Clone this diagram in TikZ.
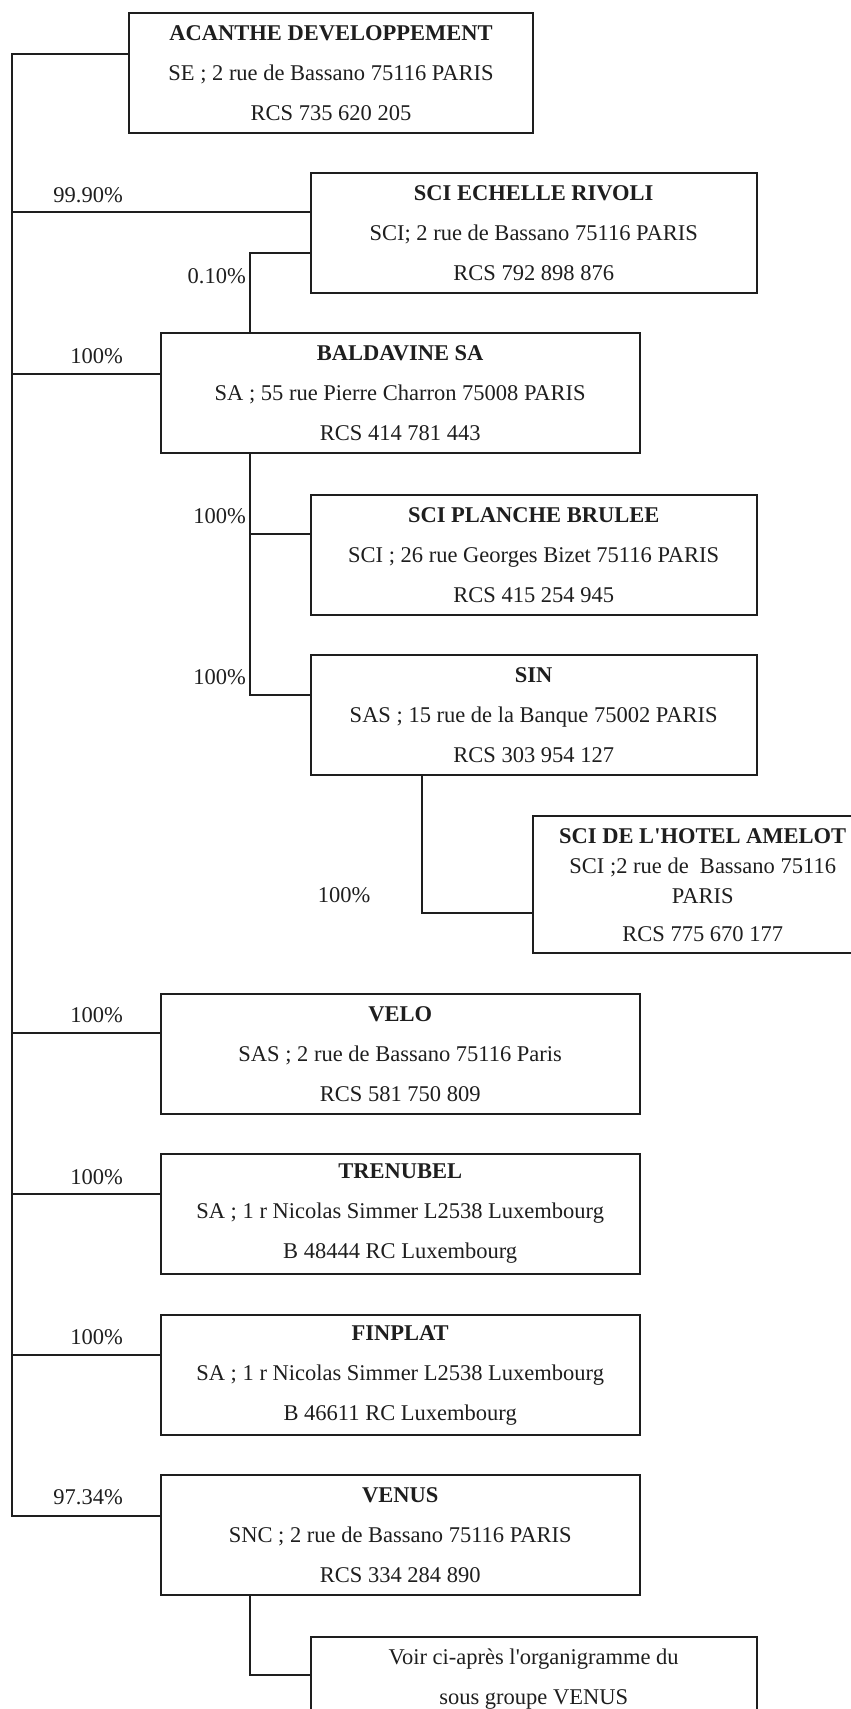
\documentclass[tikz,border=0pt]{standalone}
\usepackage{fontspec}
\setmainfont{Liberation Serif}
\definecolor{ink}{RGB}{30,30,30}
\begin{document}
\begin{tikzpicture}[x=1pt,y=-1pt,
  orgbox/.style={draw=ink, text=ink, line width=1.9pt, inner sep=0pt, align=center,
    font=\fontsize{22.5}{40}\selectfont, minimum height=120pt},
  conn/.style={draw=ink, line width=1.9pt},
  lbl/.style={text=ink, inner sep=0pt, font=\fontsize{22.5}{27}\selectfont}]
\useasboundingbox (0,0) rectangle (851,1709);
\clip (0,0) rectangle (851,1709);

% boxes
\node[orgbox, minimum width=404pt] (acanthe) at (331,73)
  {\textbf{ACANTHE DEVELOPPEMENT}\\SE ; 2 rue de Bassano 75116 PARIS\\RCS 735 620 205};
\node[orgbox, minimum width=446pt] (rivoli) at (533.7,233.3)
  {\textbf{SCI ECHELLE RIVOLI}\\SCI; 2 rue de Bassano 75116 PARIS\\RCS 792 898 876};
\node[orgbox, minimum width=479pt] (baldavine) at (400.2,393.3)
  {\textbf{BALDAVINE SA}\\SA ; 55 rue Pierre Charron 75008 PARIS\\RCS 414 781 443};
\node[orgbox, minimum width=446pt] (planche) at (533.7,554.7)
  {\textbf{SCI PLANCHE BRULEE}\\SCI ; 26 rue Georges Bizet 75116 PARIS\\RCS 415 254 945};
\node[orgbox, minimum width=446pt] (sin) at (533.7,715)
  {\textbf{SIN}\\SAS ; 15 rue de la Banque 75002 PARIS\\RCS 303 954 127};
\node[orgbox, minimum width=340pt, minimum height=137pt,
  font=\fontsize{22.5}{30}\selectfont] (amelot) at (702.7,884.7)
  {\textbf{SCI DE L\textquotesingle HOTEL AMELOT}\\SCI ;2 rue de \ Bassano 75116\\PARIS\\[8pt]RCS 775 670 177};
\node[orgbox, minimum width=479pt] (velo) at (400.2,1053.7)
  {\textbf{VELO}\\SAS ; 2 rue de Bassano 75116 Paris\\RCS 581 750 809};
\node[orgbox, minimum width=479pt] (trenubel) at (400.2,1214)
  {\textbf{TRENUBEL}\\SA ; 1 r Nicolas Simmer L2538 Luxembourg\\B 48444 RC Luxembourg};
\node[orgbox, minimum width=479pt] (finplat) at (400.2,1375)
  {\textbf{FINPLAT}\\SA ; 1 r Nicolas Simmer L2538 Luxembourg\\B 46611 RC Luxembourg};
\node[orgbox, minimum width=479pt] (venus) at (400.2,1535.3)
  {\textbf{VENUS}\\SNC ; 2 rue de Bassano 75116 PARIS\\RCS 334 284 890};
\node[orgbox, minimum width=446pt] (voir) at (533.7,1697)
  {Voir ci-après l\textquotesingle organigramme du\\sous groupe VENUS\\\mbox{}};

% junction coordinates
\coordinate (tTop) at (12.3,54);
\coordinate (tEnd) at (12.3,1515.7);
\coordinate (b1) at (12.3,212);
\coordinate (b2) at (12.3,374);
\coordinate (b3) at (12.3,1033.3);
\coordinate (b4) at (12.3,1194);
\coordinate (b5) at (12.3,1355);
\coordinate (r1) at (250,253.3);
\coordinate (s1) at (250,534);
\coordinate (s2) at (250,695);
\coordinate (a1) at (422,913.3);
\coordinate (v1) at (250,1675.3);

% connectors
\draw[conn] (acanthe.west |- tTop) -- (tTop) -- (tEnd) -- (venus.west |- tEnd);
\draw[conn] (b1) -- (rivoli.west |- b1);
\draw[conn] (b2) -- (baldavine.west |- b2);
\draw[conn] (b3) -- (velo.west |- b3);
\draw[conn] (b4) -- (trenubel.west |- b4);
\draw[conn] (b5) -- (finplat.west |- b5);
\draw[conn] (rivoli.west |- r1) -- (r1) -- (baldavine.north -| r1);
\draw[conn] (baldavine.south -| s2) -- (s2) -- (sin.west |- s2);
\draw[conn] (s1) -- (planche.west |- s1);
\draw[conn] (sin.south -| a1) -- (a1) -- (amelot.west |- a1);
\draw[conn] (venus.south -| v1) -- (v1) -- (voir.west |- v1);

% labels
\node[lbl, anchor=east] (l1) at (123,195) {99.90\%};
\node[lbl, anchor=east] (l2) at (246,276) {0.10\%};
\node[lbl, anchor=east] (l3) at (123,356) {100\%};
\node[lbl, anchor=east] (l4) at (246,516) {100\%};
\node[lbl, anchor=east] (l5) at (246,677) {100\%};
\node[lbl] (l6) at (344,895) {100\%};
\node[lbl, anchor=east] (l7) at (123,1015) {100\%};
\node[lbl, anchor=east] (l8) at (123,1176.7) {100\%};
\node[lbl, anchor=east] (l9) at (123,1336.7) {100\%};
\node[lbl, anchor=east] (l10) at (123,1497) {97.34\%};
\end{tikzpicture}
\end{document}
